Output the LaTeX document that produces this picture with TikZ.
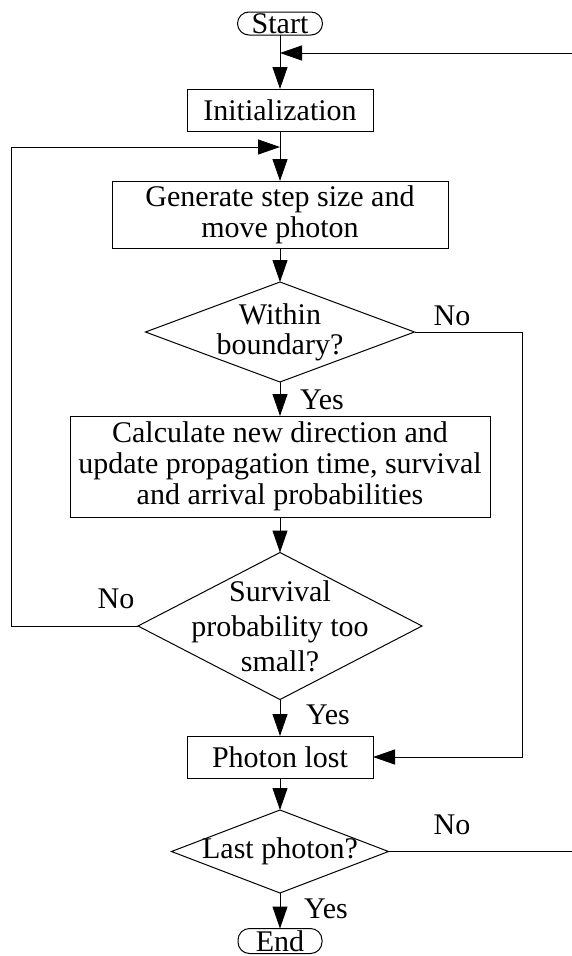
\documentclass[tikz,border=0pt]{standalone}
\usepackage{fontspec}
\setmainfont{Liberation Serif}
\usetikzlibrary{arrows.meta,shapes.geometric}
\begin{document}
\begin{tikzpicture}[x=1pt,y=-1pt,
  every node/.style={font=\fontsize{30}{31}\selectfont, inner sep=0pt, outer sep=0pt},
  procbox/.style={draw, line width=1pt, rectangle, align=center},
  termbox/.style={draw, line width=1pt, rectangle, rounded corners=11.5pt},
  decbox/.style={draw, line width=1pt, diamond},
  dectext/.style={align=center},
  lbl/.style={anchor=base},
  arr/.style={line width=1pt, -{Triangle[length=22pt,width=15pt]}},
  ln/.style={line width=1pt}]
\useasboundingbox (0,0) rectangle (572,956);
% nodes
\node[termbox, minimum width=85pt, minimum height=23pt] (start) at (280,23.5) {Start};
\node[procbox, minimum width=186pt, minimum height=42pt] (init) at (280,110) {Initialization};
\node[procbox, minimum width=336pt, minimum height=67pt] (gen) at (280,214.5) {Generate step size and\\move photon};
\node[decbox, minimum width=269pt, minimum height=100pt] (d1) at (280,332) {};
\node[dectext, font=\fontsize{30}{30}\selectfont] (d1t) at (d1) {Within\\boundary?};
\node[procbox, minimum width=420pt, minimum height=101pt] (calc) at (280,466.5) {Calculate new direction and\\update propagation time, survival\\and arrival probabilities};
\node[decbox, minimum width=284pt, minimum height=147pt] (d2) at (280,626) {};
\node[dectext, font=\fontsize{30}{35}\selectfont] (d2t) at (d2) {Survival\\probability too\\small?};
\node[procbox, minimum width=186pt, minimum height=42pt] (pl) at (280,757) {Photon lost};
\node[decbox, minimum width=217pt, minimum height=83pt] (d3) at (280,851.5) {};
\node[dectext] (d3t) at (d3) {Last photon?};
\node[termbox, minimum width=84pt, minimum height=25pt] (stop) at (280,941) {End};
% labels
\node[lbl] (no1) at (452,325) {No};
\node[lbl] (yes1) at (322,409) {Yes};
\node[lbl] (no2) at (116,608) {No};
\node[lbl] (yes2) at (328,724) {Yes};
\node[lbl] (no3) at (452,834) {No};
\node[lbl] (yes3) at (326,918) {Yes};
% coordinates
\coordinate (j0) at (280,53);
\coordinate (fbR) at (572,53);
\coordinate (j1) at (280,147);
\coordinate (lft) at (11,147);
\coordinate (rgt) at (522,332);
\coordinate (d3R) at (572,851.5);
% connectors
\draw[arr] (start) -- (init);
\draw[arr] (fbR) -- (j0);
\draw[arr] (init) -- (gen);
\draw[arr] (d2.west) -| (lft) -- (j1);
\draw[arr] (gen) -- (d1);
\draw[arr] (d1) -- (calc);
\draw[arr] (d1.east) -- (rgt) |- (pl.east);
\draw[arr] (calc) -- (d2);
\draw[arr] (d2) -- (pl);
\draw[arr] (pl) -- (d3);
\draw[arr] (d3) -- (stop);
\draw[ln] (d3.east) -- (d3R);
\end{tikzpicture}
\end{document}
